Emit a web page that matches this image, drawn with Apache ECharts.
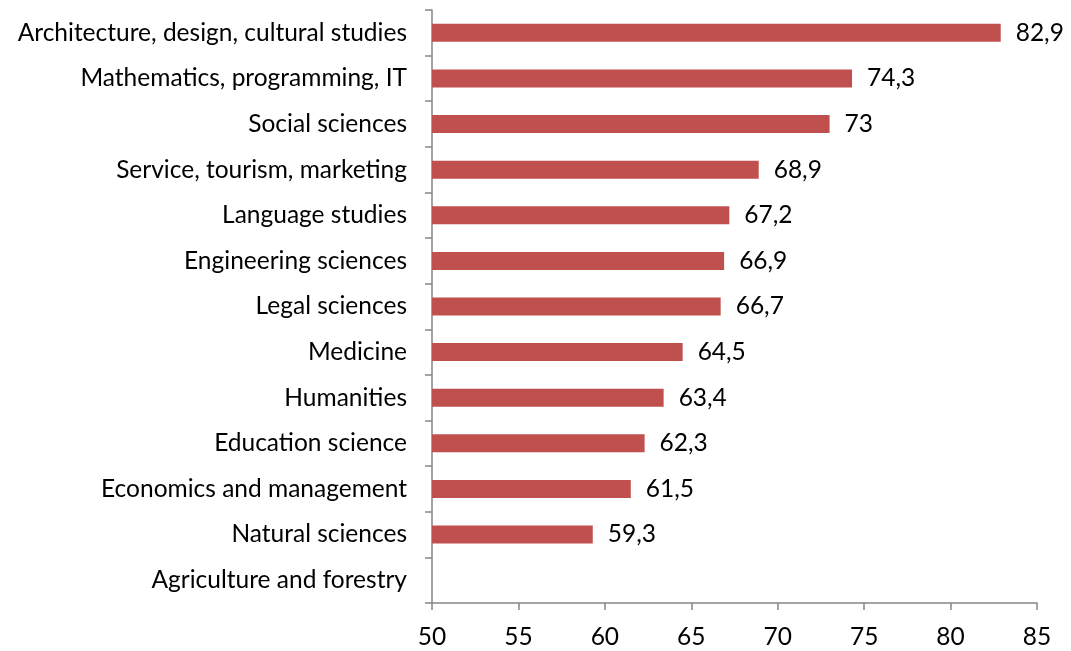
<!DOCTYPE html>
<html>
<head>
<meta charset="utf-8">
<script src="https://cdn.jsdelivr.net/npm/echarts@6/dist/echarts.min.js"></script>
<style>html,body{margin:0;padding:0;background:#fff;}#c{width:1071px;height:651px;}</style>
</head>
<body>
<div id="c"></div>
<script>
const categories = [
  "Agriculture and forestry",
  "Natural sciences",
  "Economics and management",
  "Education science",
  "Humanities",
  "Medicine",
  "Legal sciences",
  "Engineering sciences",
  "Language studies",
  "Service, tourism, marketing",
  "Social sciences",
  "Mathematics, programming, IT",
  "Architecture, design, cultural studies"
];
const values = [null, 59.3, 61.5, 62.3, 63.4, 64.5, 66.7, 66.9, 67.2, 68.9, 73, 74.3, 82.9];
const xTicks = { min: 50, max: 85, interval: 5 };

const FONT = 'Lato';
const FS = 24.5;
const chart = echarts.init(document.getElementById('c'));
chart.setOption({
  animation: false,
  grid: { left: 432, right: 34, top: 10, bottom: 48, containLabel: false },
  xAxis: {
    type: 'value', min: xTicks.min, max: xTicks.max, interval: xTicks.interval,
    axisLine: { show: true, lineStyle: { color: '#868686', width: 1.5 } },
    axisTick: { show: true, length: 7, lineStyle: { color: '#868686', width: 1.5 } },
    splitLine: { show: false },
    axisLabel: { color: '#000', fontSize: FS, fontFamily: FONT, margin: 22 }
  },
  yAxis: {
    type: 'category', data: categories,
    axisLine: { show: true, lineStyle: { color: '#868686', width: 1.5 } },
    axisTick: { show: true, length: 7, alignWithLabel: false, lineStyle: { color: '#868686', width: 1.5 } },
    axisLabel: { color: '#000', fontSize: FS, fontFamily: FONT, margin: 25, padding: [2, 0, 0, 0] }
  },
  series: [{
    type: 'bar', data: values, barWidth: 18,
    itemStyle: { color: '#C0504D' },
    label: {
      show: true, position: 'right', distance: 15, color: '#000', fontSize: FS, fontFamily: FONT,
      padding: [3, 0, 0, 0],
      formatter: p => p.value == null ? '' : String(p.value).replace('.', ',')
    }
  }]
});
</script>
</body>
</html>
